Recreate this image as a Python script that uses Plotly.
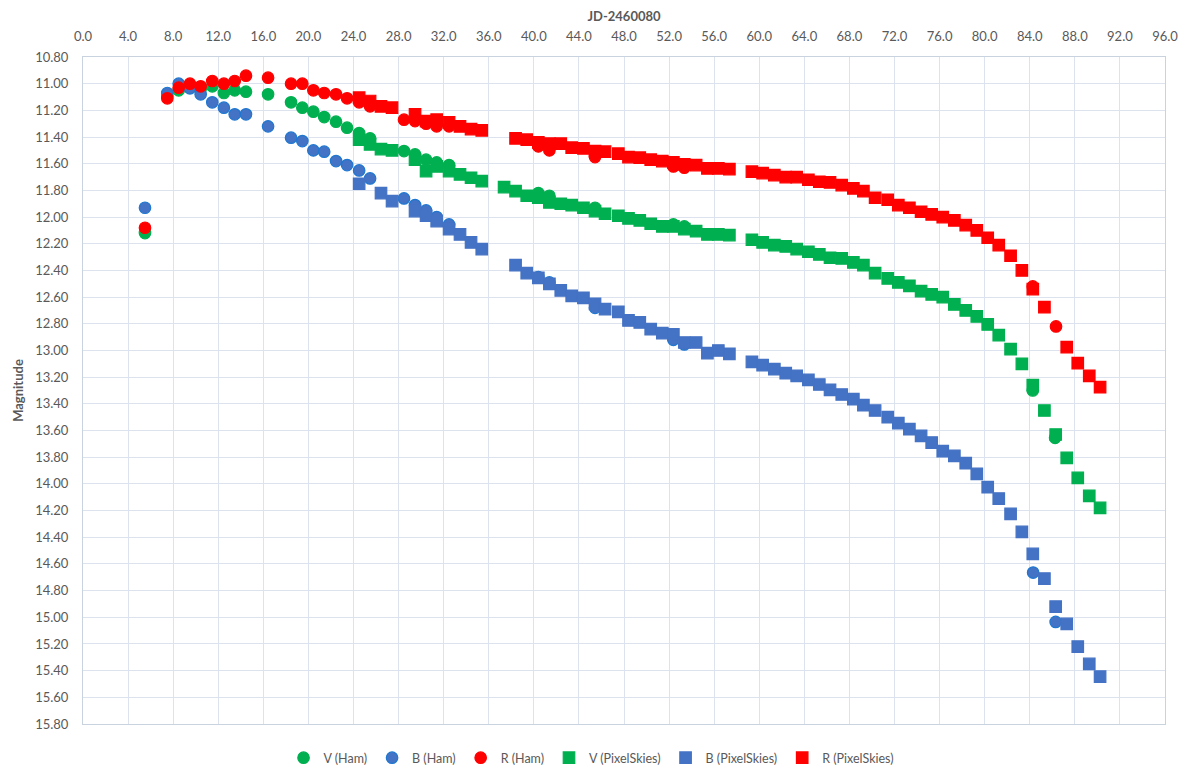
import plotly.graph_objects as go

# ---------------- data (JD-2460080 vs magnitude) ----------------
v_ham_x = [5.5, 7.48, 8.49, 9.49, 10.44, 11.47, 12.5, 13.46, 14.46, 16.42, 18.46, 19.46, 20.44,
           21.4, 22.45, 23.43, 24.5, 25.47, 28.48, 29.46, 30.44, 31.38, 32.48,
           40.4, 41.38, 45.43, 52.38, 53.35, 84.27, 86.25]
v_ham_y = [12.12, 11.09, 11.05, 11.03, 11.04, 11.02, 11.07, 11.05, 11.06, 11.08, 11.14, 11.18, 11.21,
           11.25, 11.285, 11.33, 11.37, 11.41, 11.505, 11.53, 11.57, 11.59, 11.61,
           11.82, 11.84, 11.93, 12.055, 12.07, 13.30, 13.655]

b_ham_x = [5.5, 7.48, 8.49, 9.49, 10.44, 11.47, 12.5, 13.46, 14.46, 16.42, 18.46, 19.46, 20.44,
           21.4, 22.45, 23.43, 24.5, 25.47, 28.48, 29.46, 30.44, 31.38, 32.48,
           40.4, 41.38, 45.43, 52.38, 53.35, 84.3, 86.3]
b_ham_y = [11.93, 11.07, 11.00, 11.035, 11.08, 11.14, 11.18, 11.23, 11.23, 11.32, 11.405, 11.43, 11.50,
           11.51, 11.58, 11.61, 11.65, 11.71, 11.86, 11.91, 11.95, 12.00, 12.055,
           12.45, 12.49, 12.68, 12.92, 12.955, 14.665, 15.035]

r_ham_x = [5.5, 7.48, 8.49, 9.49, 10.44, 11.47, 12.5, 13.46, 14.46, 16.42, 18.46, 19.46, 20.44,
           21.4, 22.45, 23.43, 24.5, 25.47, 28.48, 29.46, 30.44, 31.38, 32.48,
           40.4, 41.38, 45.43, 52.38, 53.35, 84.27, 86.33]
r_ham_y = [12.08, 11.11, 11.03, 11.00, 11.02, 10.98, 11.00, 10.98, 10.94, 10.955, 11.00, 11.00, 11.05,
           11.07, 11.08, 11.11, 11.14, 11.17, 11.27, 11.28, 11.30, 11.32, 11.32,
           11.47, 11.50, 11.55, 11.62, 11.63, 12.52, 12.82]

v_ps_x = [24.5, 25.47, 26.44, 27.42, 29.46, 30.44, 31.38, 32.48, 33.45, 34.43, 35.38, 37.36,
          38.38, 39.37, 40.4, 41.38, 42.39, 43.36, 44.4, 45.43, 46.32, 47.5, 48.4, 49.4, 50.37,
          51.4, 52.38, 53.35, 54.4, 55.4, 56.37, 57.35, 59.35, 60.3, 61.34, 62.35, 63.32, 64.36,
          65.33, 66.28, 67.32, 68.35, 69.24, 70.28, 71.4, 72.34, 73.32, 74.36, 75.3, 76.28, 77.31,
          78.32, 79.3, 80.27, 81.25, 82.3, 83.3, 84.27, 85.3, 86.3, 87.28, 88.26, 89.28, 90.24]
v_ps_y = [11.42, 11.455, 11.49, 11.50, 11.57, 11.655, 11.62, 11.655, 11.68, 11.705, 11.73, 11.775,
          11.805, 11.84, 11.855, 11.89, 11.90, 11.91, 11.93, 11.955, 11.975, 11.99, 12.01, 12.025, 12.05,
          12.07, 12.07, 12.09, 12.105, 12.13, 12.13, 12.135, 12.17, 12.19, 12.21, 12.22, 12.24, 12.26,
          12.28, 12.305, 12.31, 12.34, 12.36, 12.42, 12.46, 12.49, 12.515, 12.555, 12.58, 12.60, 12.655,
          12.70, 12.745, 12.805, 12.885, 12.99, 13.10, 13.26, 13.45, 13.63, 13.805, 13.955, 14.09, 14.18]

b_ps_x = [24.5, 26.44, 27.42, 29.46, 30.44, 31.38, 32.48, 33.45, 34.43, 35.38,
          38.38, 39.37, 40.4, 41.38, 42.39, 43.36, 44.4, 45.43, 46.32, 47.5, 48.4, 49.4, 50.37,
          51.4, 52.38, 53.35, 54.4, 55.4, 56.37, 57.35, 59.35, 60.3, 61.34, 62.35, 63.32, 64.36,
          65.33, 66.28, 67.32, 68.35, 69.24, 70.28, 71.4, 72.34, 73.32, 74.36, 75.3, 76.28, 77.31,
          78.32, 79.3, 80.27, 81.25, 82.3, 83.3, 84.27, 85.3, 86.3, 87.28, 88.26, 89.28, 90.24]
b_ps_y = [11.75, 11.82, 11.88, 11.955, 11.99, 12.03, 12.09, 12.13, 12.19, 12.24,
          12.36, 12.42, 12.455, 12.50, 12.55, 12.59, 12.605, 12.65, 12.69, 12.71, 12.775, 12.79, 12.84,
          12.87, 12.88, 12.94, 12.94, 13.02, 13.00, 13.025, 13.085, 13.11, 13.14, 13.17, 13.19, 13.22,
          13.255, 13.295, 13.33, 13.365, 13.41, 13.45, 13.50, 13.545, 13.59, 13.64, 13.69, 13.755, 13.79,
          13.845, 13.925, 14.025, 14.11, 14.225, 14.36, 14.525, 14.71, 14.92, 15.05, 15.22, 15.35, 15.445]

r_ps_x = [24.5, 25.47, 26.44, 27.42, 29.46, 30.44, 31.38, 32.48, 33.45, 34.43, 35.38,
          38.38, 39.37, 40.4, 41.38, 42.39, 43.36, 44.4, 45.43, 46.32, 47.5, 48.4, 49.4, 50.37,
          51.4, 52.38, 53.35, 54.4, 55.4, 56.37, 57.35, 59.35, 60.3, 61.34, 62.35, 63.32, 64.36,
          65.33, 66.28, 67.32, 68.35, 69.24, 70.28, 71.4, 72.34, 73.32, 74.36, 75.3, 76.28, 77.31,
          78.32, 79.3, 80.27, 81.25, 82.3, 83.3, 84.27, 85.3, 87.28, 88.26, 89.28, 90.24]
r_ps_y = [11.105, 11.13, 11.17, 11.18, 11.23, 11.28, 11.27, 11.29, 11.32, 11.34, 11.35,
          11.41, 11.42, 11.44, 11.45, 11.45, 11.48, 11.485, 11.505, 11.51, 11.525, 11.55, 11.555, 11.57,
          11.58, 11.59, 11.605, 11.61, 11.635, 11.635, 11.64, 11.66, 11.67, 11.685, 11.70, 11.70, 11.72,
          11.735, 11.74, 11.76, 11.785, 11.805, 11.855, 11.87, 11.91, 11.93, 11.96, 11.98, 12.00, 12.025,
          12.06, 12.10, 12.155, 12.21, 12.29, 12.40, 12.54, 12.675, 12.975, 13.095, 13.19, 13.275]

GREEN = "#00B050"
BLUE = "#4472C4"
RED = "#FF0000"

fig = go.Figure()

def add(x, y, name, color, symbol, line_color):
    fig.add_trace(go.Scatter(
        x=x, y=y, mode="markers", name=name,
        marker=dict(color=color, symbol=symbol, size=11.5,
                    line=dict(color=line_color, width=1.2)),
    ))

add(v_ham_x, v_ham_y, "V (Ham)", GREEN, "circle", GREEN)
add(b_ham_x, b_ham_y, "B (Ham)", BLUE, "circle", "#1F77D0")
add(r_ham_x, r_ham_y, "R (Ham)", RED, "circle", RED)
add(v_ps_x, v_ps_y, "V (PixelSkies)", GREEN, "square", GREEN)
add(b_ps_x, b_ps_y, "B (PixelSkies)", BLUE, "square", BLUE)
add(r_ps_x, r_ps_y, "R (PixelSkies)", RED, "square", RED)

FONT = "Lato"
TXT = "#595959"
GRID = "#DCE3EE"

fig.update_layout(
    width=1189, height=773,
    margin=dict(l=75, r=32, t=49, b=57, autoexpand=False),
    paper_bgcolor="white", plot_bgcolor="white",
    font=dict(family=FONT, color=TXT, size=12),
    showlegend=True,
    legend=dict(orientation="h", x=0.47, xanchor="center", y=-0.051, yanchor="middle",
                font=dict(size=12.5, color=TXT), itemsizing="trace", itemwidth=30),
    xaxis=dict(
        side="top", range=[0, 96], dtick=4, tick0=0, tickformat=".1f",
        showgrid=True, gridcolor=GRID, gridwidth=1,
        showline=True, linecolor="#C9D3E0", linewidth=1, mirror=True,
        zeroline=False, ticks="", ticklabelstandoff=10, automargin=False,
        tickfont=dict(size=13, color=TXT),
        title=dict(text="<b>JD-2460080</b>", font=dict(size=13, color=TXT), standoff=10),
    ),
    yaxis=dict(
        range=[15.8, 10.8], dtick=0.2, tick0=10.8, tickformat=".2f",
        showgrid=True, gridcolor=GRID, gridwidth=1,
        showline=True, linecolor="#C9D3E0", linewidth=1, mirror=True,
        zeroline=False, ticks="", ticklabelstandoff=11, automargin=False,
        tickfont=dict(size=13, color=TXT),
        title=dict(text="<b>Magnitude</b>", font=dict(size=13, color=TXT), standoff=8),
    ),
)

fig.write_html("out.html")
